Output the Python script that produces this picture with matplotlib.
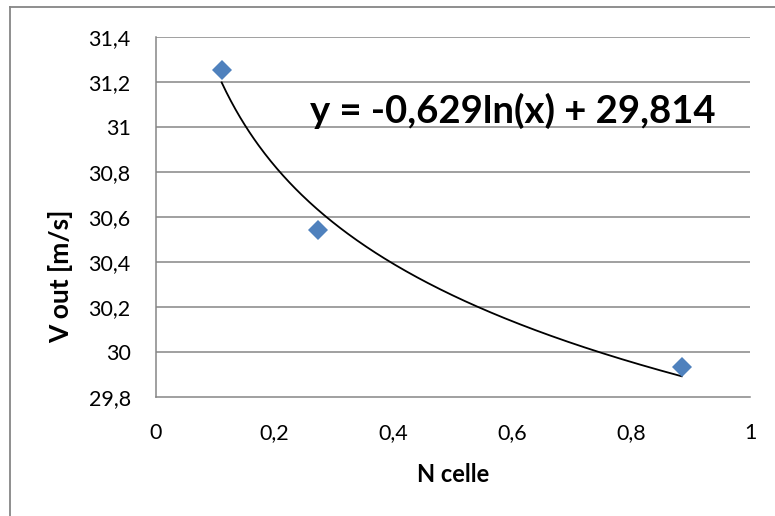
import numpy as np
import matplotlib
matplotlib.use("Agg")
import matplotlib.pyplot as plt
from matplotlib.lines import Line2D

plt.rcParams['font.family'] = ['Lato', 'DejaVu Sans']

# Measured points
n_celle = [0.111, 0.273, 0.885]
v_out = [31.25, 30.54, 29.93]

# Logarithmic trendline coefficients: y = a*ln(x) + b
trend_a = -0.629
trend_b = 29.814

x_ticks = [0, 0.2, 0.4, 0.6, 0.8, 1.0]
y_ticks = [29.8, 30.0, 30.2, 30.4, 30.6, 30.8, 31.0, 31.2, 31.4]


def comma_fmt(v):
    s = f"{v:.1f}".rstrip('0').rstrip('.')
    return s.replace('.', ',')


fig = plt.figure(figsize=(7.75, 5.16), dpi=100)
ax = fig.add_axes([155.7 / 775, (516 - 396.7) / 516, 594.3 / 775, 360 / 516])

grid_col = '#868686'
for yv in y_ticks[1:]:
    ax.axhline(yv, color=grid_col, lw=1.1, zorder=1)

xs = np.linspace(min(n_celle), max(n_celle), 300)
ax.plot(xs, trend_a * np.log(xs) + trend_b, color='black', lw=1.3, zorder=2)

ax.plot(n_celle, v_out, linestyle='none', marker='D', markersize=10.5,
        color='#4F81BD', markeredgewidth=0, zorder=3)

ax.set_xlim(0, 1)
ax.set_ylim(29.8, 31.4)
ax.set_xticks(x_ticks)
ax.set_yticks(y_ticks)
ax.set_xticklabels([comma_fmt(v) for v in x_ticks])
ax.set_yticklabels([comma_fmt(v) for v in y_ticks])
ax.tick_params(axis='both', length=0, labelsize=15.5, colors='black')
ax.tick_params(axis='y', pad=18)
ax.tick_params(axis='x', pad=19)

for side in ['top', 'right']:
    ax.spines[side].set_visible(False)
for side in ['left', 'bottom']:
    ax.spines[side].set_color(grid_col)
    ax.spines[side].set_linewidth(1.1)

ax.set_xlabel('N celle', fontsize=17, fontweight='bold', labelpad=14)
ax.set_ylabel('V out [m/s]', fontsize=19, fontweight='bold', labelpad=11, y=0.335)

eq = f"y = {trend_a:.3f}ln(x) + {trend_b:.3f}".replace('.', ',')
# equation baseline sits just above the 31 gridline
ax.text(0.26, (31.0 - 29.8) / 1.6 + 0.011, eq, transform=ax.transAxes,
        fontsize=27.5, fontweight='bold', va='baseline', ha='left', zorder=4)

# Chart frame (extends past the right and bottom edges)
fig.add_artist(Line2D([10 / 775, 10 / 775], [0, 1 - 7 / 516], transform=fig.transFigure,
                      color=grid_col, lw=1.3))
fig.add_artist(Line2D([10 / 775, 1], [1 - 7 / 516, 1 - 7 / 516], transform=fig.transFigure,
                      color=grid_col, lw=1.3))

fig.savefig('out.png', dpi=100)
